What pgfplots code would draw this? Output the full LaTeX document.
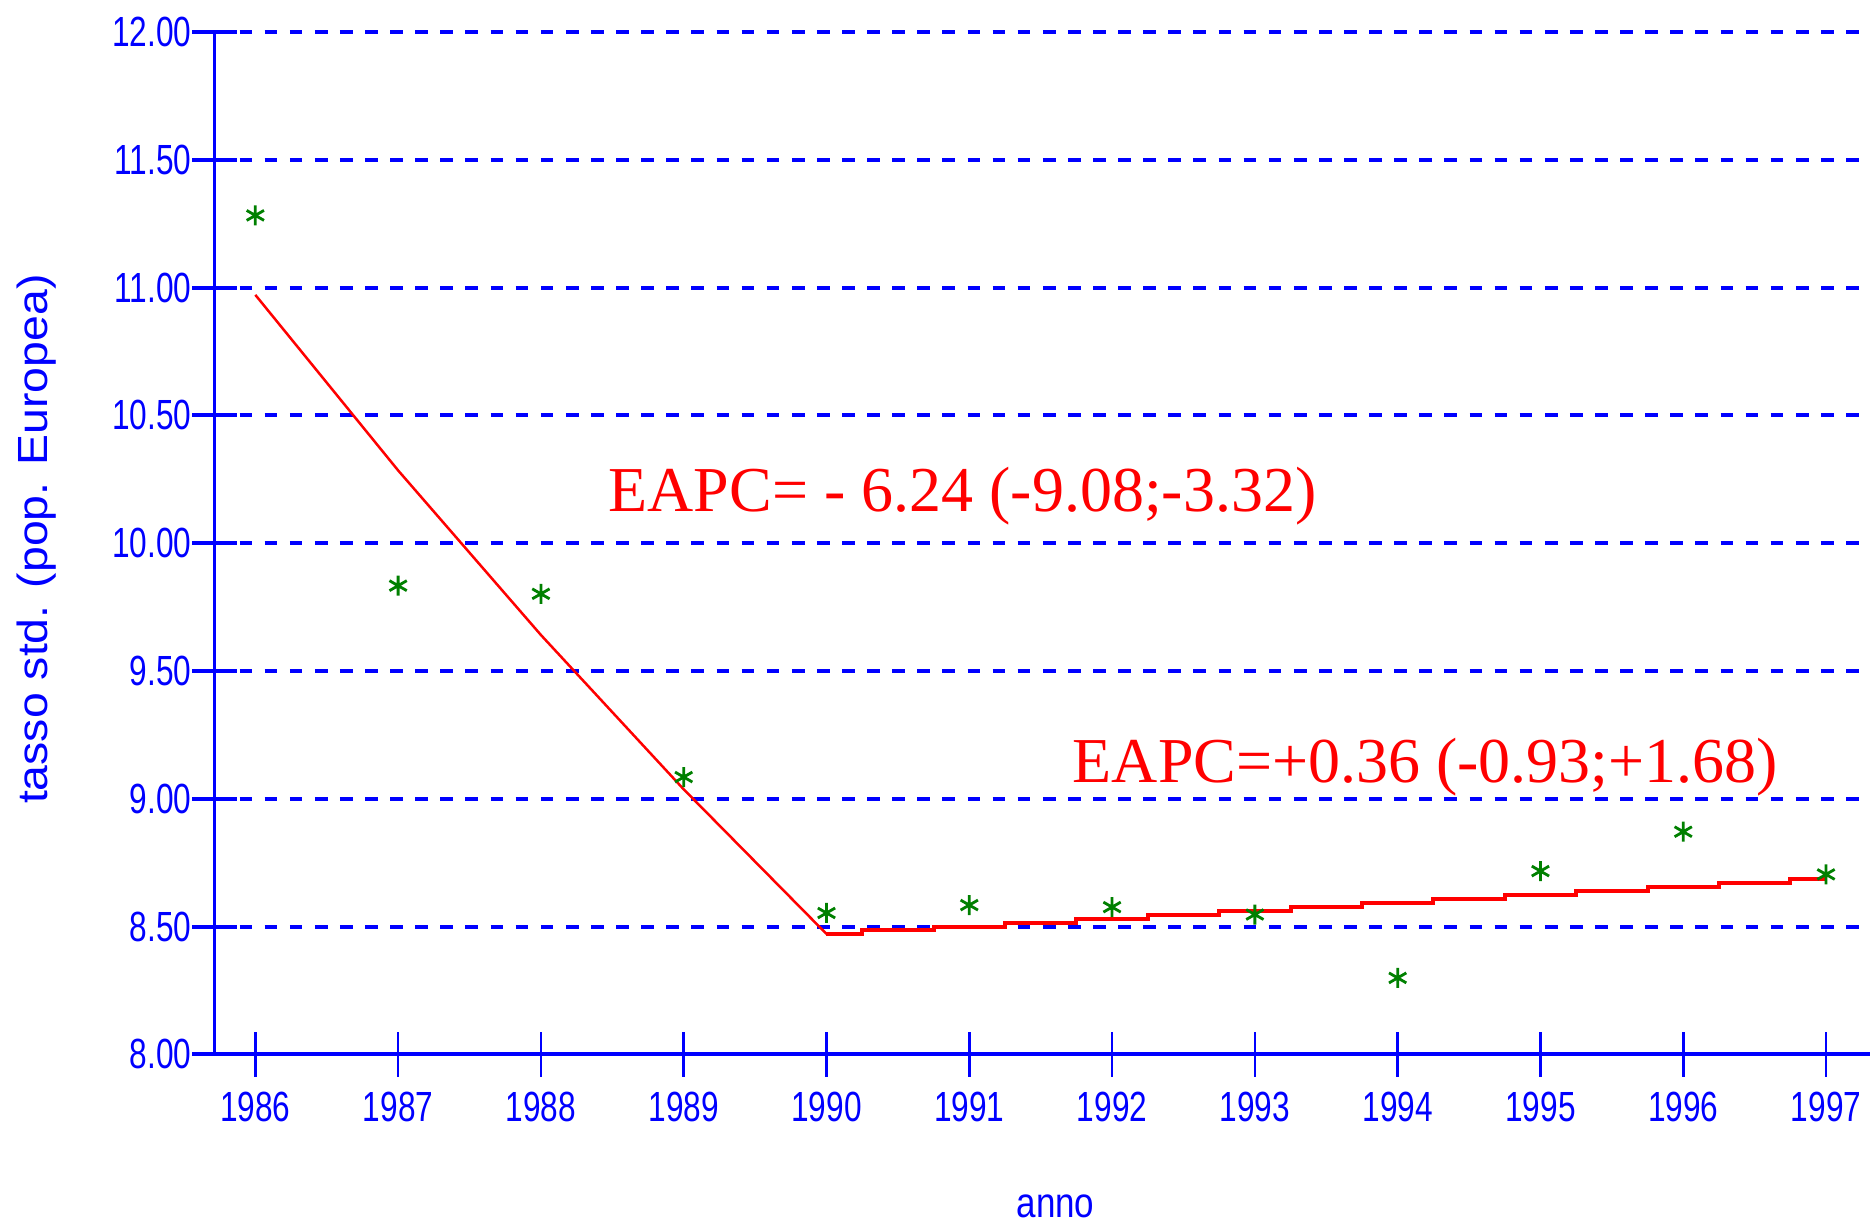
\documentclass[border=0pt]{standalone}
\usepackage{fontspec}
\usepackage{graphicx}
\usepackage{pgfplots}
\pgfplotsset{compat=1.18}
\newfontfamily\tickfont[FakeStretch=0.75]{Liberation Sans}
\newfontfamily\labfont{Liberation Sans}
\newfontfamily\eapcfont{Liberation Serif}
\definecolor{axblue}{RGB}{0,0,255}
\definecolor{ptgreen}{RGB}{0,128,0}

\begin{document}
\begin{tikzpicture}
\useasboundingbox (-21.45mm,-16.67mm) rectangle (165.55mm,105.43mm);
\begin{axis}[
    at={(0,0)}, anchor=south west,
    scale only axis,
    width=165.55mm, height=102.21mm,
    xmin=1985.714, xmax=1997.308,
    ymin=8, ymax=12,
    axis lines=left,
    axis line style={-, axblue},
    x axis line style={line width=0.4mm},
    y axis line style={line width=0.27mm},
    xtick={1986,1987,1988,1989,1990,1991,1992,1993,1994,1995,1996,1997},
    ytick={8,8.5,9,9.5,10,10.5,11,11.5,12},
    tick align=center,
    major tick length=4.5mm,
    xtick style={axblue, line width=0.27mm},
    ytick style={axblue, line width=0.4mm},
    /pgf/number format/assume math mode=true,
    tick label style={font=\tickfont\fontsize{12}{12}\selectfont, text=axblue, inner sep=0pt},
    xticklabel style={/pgf/number format/1000 sep={}, anchor=north, yshift=-1.5mm},
    yticklabel style={anchor=east, /pgf/number format/fixed,
        /pgf/number format/fixed zerofill, /pgf/number format/precision=2},
    ymajorgrids,
    major grid style={axblue, line width=0.4mm, dash pattern=on 1.27mm off 1.24mm},
    xlabel={\scalebox{0.83}[1]{anno}},
    xlabel style={at={(axis description cs:0.508,0)}, anchor=center, yshift=-15.2mm,
        font=\labfont\fontsize{12}{12}\selectfont, text=axblue, inner sep=0pt},
    ylabel={\scalebox{1.1}[1]{tasso std. (pop. Europea)}},
    ylabel style={at={(axis description cs:-0.1075,0.504)}, anchor=center,
        font=\labfont\fontsize{12}{12}\selectfont, text=axblue, inner sep=0pt},
]
% exponential fit, first period
\addplot[red, line width=0.25mm] coordinates {
    (1986,10.972) (1987,10.285) (1988,9.641) (1989,9.037) (1990,8.471)
};
% fit, second period (drawn as steps)
\addplot[red, line width=0.4mm, const plot] coordinates {
    (1990,8.471) (1990.25,8.486) (1990.75,8.500) (1991.25,8.514) (1991.75,8.530)
    (1992.25,8.546) (1992.75,8.561) (1993.25,8.577) (1993.75,8.592) (1994.25,8.608)
    (1994.75,8.624) (1995.25,8.639) (1995.75,8.655) (1996.25,8.671) (1996.75,8.686)
    (1997,8.686)
};
% observed rates
\addplot[only marks, mark=asterisk, mark size=1mm, ptgreen, mark options={line width=0.8pt}] coordinates {
    (1986,11.283) (1987,9.834) (1988,9.802) (1989,9.085) (1990,8.553) (1991,8.584)
    (1992,8.576) (1993,8.547) (1994,8.299) (1995,8.717) (1996,8.871) (1997,8.704)
};
\node[anchor=base west, inner sep=0pt, text=red, font=\eapcfont\fontsize{18.2}{20}\selectfont]
    at (axis cs:1988.47,10.125) {EAPC= - 6.24 (-9.08;-3.32)};
\node[anchor=base west, inner sep=0pt, text=red, font=\eapcfont\fontsize{18.2}{20}\selectfont]
    at (axis cs:1991.72,9.065) {EAPC=+0.36 (-0.93;+1.68)};
\end{axis}
\end{tikzpicture}
\end{document}
